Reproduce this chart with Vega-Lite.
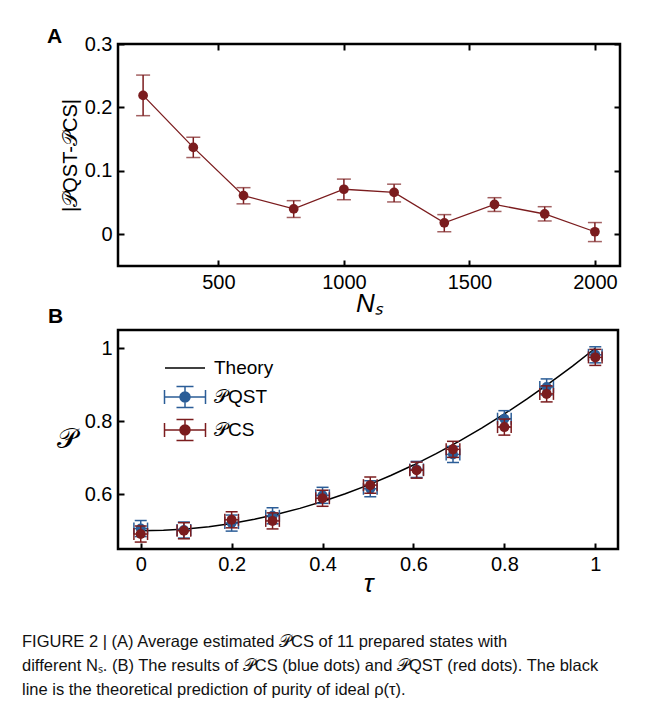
{
  "$schema": "https://vega.github.io/schema/vega-lite/v6.json",
  "background": "white",
  "padding": {"left": 22, "top": 24, "right": 8, "bottom": 5},
  "bounds": "flush",
  "spacing": 64,
  "resolve": {"scale": {"color": "independent"}, "legend": {"color": "independent"}},
  "config": {
    "view": {"stroke": "black", "strokeWidth": 2.5},
    "font": "Liberation Sans",
    "axis": {"grid": false, "domain": false, "minExtent": 0, "tickColor": "black", "tickWidth": 2, "tickSize": -6, "labelFontSize": 20, "labelColor": "black", "labelFont": "Liberation Sans", "titleColor": "black", "titleFontWeight": "normal", "titleFont": "Liberation Sans"},
    "title": {"color": "black"}
  },
  "title": {
    "text": ["FIGURE 2 | (A) Average estimated 𝒫CS of 11 prepared states with", "different Nₛ. (B) The results of 𝒫CS (blue dots) and 𝒫QST (red dots). The black", "line is the theoretical prediction of purity of ideal ρ(τ)."],
    "orient": "bottom", "anchor": "start", "frame": "group", "dx": -96, "offset": 37,
    "font": "Liberation Sans",
    "fontSize": 16.5, "fontWeight": "normal", "lineHeight": 24, "color": "#111111"
  },
  "vconcat": [
    {
      "width": 502, "height": 222,
      "title": {"text": "A", "anchor": "start", "frame": "group", "dx": -71, "fontSize": 21, "fontWeight": "bold", "offset": -13},
      "data": {"values": [
        {"Ns": 200, "d": 0.219, "lo": 0.187, "hi": 0.251},
        {"Ns": 400, "d": 0.137, "lo": 0.121, "hi": 0.153},
        {"Ns": 600, "d": 0.061, "lo": 0.048, "hi": 0.0735},
        {"Ns": 800, "d": 0.040, "lo": 0.0265, "hi": 0.053},
        {"Ns": 1000, "d": 0.071, "lo": 0.0545, "hi": 0.087},
        {"Ns": 1200, "d": 0.066, "lo": 0.051, "hi": 0.079},
        {"Ns": 1400, "d": 0.018, "lo": 0.004, "hi": 0.031},
        {"Ns": 1600, "d": 0.047, "lo": 0.036, "hi": 0.0577},
        {"Ns": 1800, "d": 0.032, "lo": 0.021, "hi": 0.0435},
        {"Ns": 2000, "d": 0.004, "lo": -0.0115, "hi": 0.0185}
      ]},
      "resolve": {"axis": {"x": "independent", "y": "independent"}},
      "layer": [
        {
          "mark": {"type": "line", "color": "#7b1c1e", "strokeWidth": 1.3},
          "encoding": {
            "x": {"field": "Ns", "type": "quantitative", "scale": {"domain": [100, 2100], "nice": false, "zero": false},
                  "axis": {"orient": "bottom", "values": [500, 1000, 1500, 2000], "format": "d", "labelPadding": 12, "title": "Nₛ", "titleFontSize": 26, "titleFontStyle": "italic", "titlePadding": -2}},
            "y": {"field": "d", "type": "quantitative", "scale": {"domain": [-0.05, 0.3], "nice": false, "zero": false},
                  "axis": {"orient": "left", "values": [0, 0.1, 0.2, 0.3], "format": "~g", "labelPadding": 12, "title": "|𝒫QST-𝒫CS|", "titleFontSize": 20, "titlePadding": 4}}
          }
        },
        {
          "mark": {"type": "rule", "color": "#7b1c1e", "strokeWidth": 1.5},
          "encoding": {
            "x": {"field": "Ns", "type": "quantitative", "axis": {"orient": "top", "values": [500, 1000, 1500, 2000], "labels": false, "title": null}},
            "y": {"field": "lo", "type": "quantitative", "axis": {"orient": "right", "values": [0, 0.1, 0.2, 0.3], "labels": false, "title": null}},
            "y2": {"field": "hi"}
          }
        },
        {
          "mark": {"type": "tick", "orient": "horizontal", "color": "#7b1c1e", "size": 14, "thickness": 1.5},
          "encoding": {
            "x": {"field": "Ns", "type": "quantitative", "axis": null},
            "y": {"field": "lo", "type": "quantitative", "axis": null}
          }
        },
        {
          "mark": {"type": "tick", "orient": "horizontal", "color": "#7b1c1e", "size": 14, "thickness": 1.5},
          "encoding": {
            "x": {"field": "Ns", "type": "quantitative", "axis": null},
            "y": {"field": "hi", "type": "quantitative", "axis": null}
          }
        },
        {
          "mark": {"type": "point", "filled": true, "color": "#7b1c1e", "size": 95, "opacity": 1},
          "encoding": {
            "x": {"field": "Ns", "type": "quantitative", "axis": null},
            "y": {"field": "d", "type": "quantitative", "axis": null}
          }
        }
      ]
    },
    {
      "width": 500, "height": 219,
      "title": {"text": "B", "anchor": "start", "frame": "group", "dx": -70, "fontSize": 21, "fontWeight": "bold", "offset": 3},
      "resolve": {"axis": {"x": "independent", "y": "independent"}},
      "layer": [
        {
          "data": {"values": [
            {"tau": 0, "P": 0.5, "series": "Theory"},
            {"tau": 0.05, "P": 0.50125, "series": "Theory"},
            {"tau": 0.1, "P": 0.505, "series": "Theory"},
            {"tau": 0.15, "P": 0.51125, "series": "Theory"},
            {"tau": 0.2, "P": 0.52, "series": "Theory"},
            {"tau": 0.25, "P": 0.53125, "series": "Theory"},
            {"tau": 0.3, "P": 0.545, "series": "Theory"},
            {"tau": 0.35, "P": 0.56125, "series": "Theory"},
            {"tau": 0.4, "P": 0.58, "series": "Theory"},
            {"tau": 0.45, "P": 0.60125, "series": "Theory"},
            {"tau": 0.5, "P": 0.625, "series": "Theory"},
            {"tau": 0.55, "P": 0.65125, "series": "Theory"},
            {"tau": 0.6, "P": 0.68, "series": "Theory"},
            {"tau": 0.65, "P": 0.71125, "series": "Theory"},
            {"tau": 0.7, "P": 0.745, "series": "Theory"},
            {"tau": 0.75, "P": 0.78125, "series": "Theory"},
            {"tau": 0.8, "P": 0.82, "series": "Theory"},
            {"tau": 0.85, "P": 0.86125, "series": "Theory"},
            {"tau": 0.9, "P": 0.905, "series": "Theory"},
            {"tau": 0.95, "P": 0.95125, "series": "Theory"},
            {"tau": 1.0, "P": 1.0, "series": "Theory"}
          ]},
          "mark": {"type": "line", "strokeWidth": 1.5},
          "encoding": {
            "x": {"field": "tau", "type": "quantitative", "scale": {"domain": [-0.05, 1.05], "nice": false, "zero": false},
                  "axis": {"orient": "bottom", "values": [0, 0.2, 0.4, 0.6, 0.8, 1], "format": "~g", "labelPadding": 11, "title": "τ", "titleFontSize": 26, "titleFontStyle": "italic", "titlePadding": -4}},
            "y": {"field": "P", "type": "quantitative", "scale": {"domain": [0.45, 1.05], "nice": false, "zero": false},
                  "axis": {"orient": "left", "values": [0.6, 0.8, 1], "format": "~g", "labelPadding": 12, "title": "𝒫", "titleFontSize": 28, "titleAngle": 0, "titleAlign": "right", "titleBaseline": "middle", "titlePadding": 8}},
            "color": {"field": "series", "type": "nominal",
              "scale": {"domain": ["Theory", "QST", "CS"], "range": ["#000000", "#2b5d97", "#7b1c1e"]},
              "legend": {
                "orient": "none", "direction": "vertical", "legendX": 56, "legendY": 27, "title": null, "padding": 0,
                "symbolSize": 400, "symbolStrokeWidth": 1.5, "labelOffset": 18, "rowPadding": 5,
                "labelFontSize": 19, "labelFont": "Liberation Sans", "labelColor": "black",
                "labelExpr": "datum.value == 'QST' ? '𝒫QST' : datum.value == 'CS' ? '𝒫CS' : 'Theory'",
                "encode": {"symbols": {"update": {
                  "shape": {"signal": "datum.value == 'Theory' ? 'M-2,0H2' : 'M-2.05,0H2.05M-2.05,-0.7V0.7M2.05,-0.7V0.7M0,-1.05V1.05M-0.85,-1.05H0.85M-0.85,1.05H0.85M0.5,0A0.5,0.5 0 1,1 -0.5,0A0.5,0.5 0 1,1 0.5,0Z'"},
                  "fill": {"signal": "datum.value == 'Theory' ? 'transparent' : scale('color', datum.value)"},
                  "stroke": {"signal": "scale('color', datum.value)"},
                  "strokeWidth": {"value": 1.5},
                  "opacity": {"value": 1}
                }}}
              }}
          }
        },
        {
          "data": {"values": [
            {"series": "QST", "tau": 0, "P": 0.506, "Plo": 0.484, "Phi": 0.528, "tlo": -0.015, "thi": 0.015},
            {"series": "QST", "tau": 0.095, "P": 0.502, "Plo": 0.480, "Phi": 0.524, "tlo": 0.08, "thi": 0.11},
            {"series": "QST", "tau": 0.2, "P": 0.521, "Plo": 0.499, "Phi": 0.543, "tlo": 0.185, "thi": 0.215},
            {"series": "QST", "tau": 0.29, "P": 0.541, "Plo": 0.519, "Phi": 0.563, "tlo": 0.275, "thi": 0.305},
            {"series": "QST", "tau": 0.4, "P": 0.597, "Plo": 0.575, "Phi": 0.619, "tlo": 0.385, "thi": 0.415},
            {"series": "QST", "tau": 0.505, "P": 0.615, "Plo": 0.593, "Phi": 0.637, "tlo": 0.49, "thi": 0.52},
            {"series": "QST", "tau": 0.607, "P": 0.668, "Plo": 0.646, "Phi": 0.690, "tlo": 0.592, "thi": 0.622},
            {"series": "QST", "tau": 0.687, "P": 0.709, "Plo": 0.687, "Phi": 0.731, "tlo": 0.672, "thi": 0.702},
            {"series": "QST", "tau": 0.8, "P": 0.807, "Plo": 0.785, "Phi": 0.829, "tlo": 0.785, "thi": 0.815},
            {"series": "QST", "tau": 0.893, "P": 0.894, "Plo": 0.872, "Phi": 0.916, "tlo": 0.878, "thi": 0.908},
            {"series": "QST", "tau": 1.0, "P": 0.982, "Plo": 0.960, "Phi": 1.004, "tlo": 0.985, "thi": 1.015},
            {"series": "CS", "tau": 0, "P": 0.491, "Plo": 0.469, "Phi": 0.513, "tlo": -0.015, "thi": 0.015},
            {"series": "CS", "tau": 0.095, "P": 0.500, "Plo": 0.478, "Phi": 0.522, "tlo": 0.08, "thi": 0.11},
            {"series": "CS", "tau": 0.2, "P": 0.530, "Plo": 0.508, "Phi": 0.552, "tlo": 0.185, "thi": 0.215},
            {"series": "CS", "tau": 0.29, "P": 0.527, "Plo": 0.505, "Phi": 0.549, "tlo": 0.275, "thi": 0.305},
            {"series": "CS", "tau": 0.4, "P": 0.589, "Plo": 0.567, "Phi": 0.611, "tlo": 0.385, "thi": 0.415},
            {"series": "CS", "tau": 0.505, "P": 0.625, "Plo": 0.603, "Phi": 0.647, "tlo": 0.49, "thi": 0.52},
            {"series": "CS", "tau": 0.607, "P": 0.666, "Plo": 0.644, "Phi": 0.688, "tlo": 0.592, "thi": 0.622},
            {"series": "CS", "tau": 0.687, "P": 0.723, "Plo": 0.701, "Phi": 0.745, "tlo": 0.672, "thi": 0.702},
            {"series": "CS", "tau": 0.8, "P": 0.784, "Plo": 0.762, "Phi": 0.806, "tlo": 0.785, "thi": 0.815},
            {"series": "CS", "tau": 0.893, "P": 0.875, "Plo": 0.853, "Phi": 0.897, "tlo": 0.878, "thi": 0.908},
            {"series": "CS", "tau": 1.0, "P": 0.975, "Plo": 0.953, "Phi": 0.997, "tlo": 0.985, "thi": 1.015}
          ]},
          "layer": [
            {
              "transform": [{"filter": "datum.series == 'QST'"}],
              "layer": [
                {"mark": {"type": "rule", "strokeWidth": 1.5},
                 "encoding": {"x": {"field": "tlo", "type": "quantitative", "axis": {"orient": "top", "values": [0, 0.2, 0.4, 0.6, 0.8, 1], "labels": false, "title": null}}, "x2": {"field": "thi"},
                              "y": {"field": "P", "type": "quantitative", "axis": {"orient": "right", "values": [0.6, 0.8, 1], "labels": false, "title": null}},
                              "color": {"field": "series", "type": "nominal"}}},
                {"mark": {"type": "rule", "strokeWidth": 1.5},
                 "encoding": {"x": {"field": "tau", "type": "quantitative", "axis": null}, "y": {"field": "Plo", "type": "quantitative", "axis": null}, "y2": {"field": "Phi"}, "color": {"field": "series", "type": "nominal"}}},
                {"mark": {"type": "tick", "orient": "horizontal", "size": 12, "thickness": 1.5, "opacity": 1},
                 "encoding": {"x": {"field": "tau", "type": "quantitative", "axis": null}, "y": {"field": "Plo", "type": "quantitative", "axis": null}, "color": {"field": "series", "type": "nominal"}}},
                {"mark": {"type": "tick", "orient": "horizontal", "size": 12, "thickness": 1.5, "opacity": 1},
                 "encoding": {"x": {"field": "tau", "type": "quantitative", "axis": null}, "y": {"field": "Phi", "type": "quantitative", "axis": null}, "color": {"field": "series", "type": "nominal"}}},
                {"mark": {"type": "tick", "orient": "vertical", "size": 12, "thickness": 1.5, "opacity": 1},
                 "encoding": {"x": {"field": "tlo", "type": "quantitative", "axis": null}, "y": {"field": "P", "type": "quantitative", "axis": null}, "color": {"field": "series", "type": "nominal"}}},
                {"mark": {"type": "tick", "orient": "vertical", "size": 12, "thickness": 1.5, "opacity": 1},
                 "encoding": {"x": {"field": "thi", "type": "quantitative", "axis": null}, "y": {"field": "P", "type": "quantitative", "axis": null}, "color": {"field": "series", "type": "nominal"}}},
                {"mark": {"type": "point", "filled": true, "size": 100, "opacity": 1},
                 "encoding": {"x": {"field": "tau", "type": "quantitative", "axis": null}, "y": {"field": "P", "type": "quantitative", "axis": null}, "color": {"field": "series", "type": "nominal"}}}
              ]
            },
            {
              "transform": [{"filter": "datum.series == 'CS'"}],
              "layer": [
                {"mark": {"type": "rule", "strokeWidth": 1.5},
                 "encoding": {"x": {"field": "tlo", "type": "quantitative", "axis": null}, "x2": {"field": "thi"}, "y": {"field": "P", "type": "quantitative", "axis": null}, "color": {"field": "series", "type": "nominal"}}},
                {"mark": {"type": "rule", "strokeWidth": 1.5},
                 "encoding": {"x": {"field": "tau", "type": "quantitative", "axis": null}, "y": {"field": "Plo", "type": "quantitative", "axis": null}, "y2": {"field": "Phi"}, "color": {"field": "series", "type": "nominal"}}},
                {"mark": {"type": "tick", "orient": "horizontal", "size": 12, "thickness": 1.5, "opacity": 1},
                 "encoding": {"x": {"field": "tau", "type": "quantitative", "axis": null}, "y": {"field": "Plo", "type": "quantitative", "axis": null}, "color": {"field": "series", "type": "nominal"}}},
                {"mark": {"type": "tick", "orient": "horizontal", "size": 12, "thickness": 1.5, "opacity": 1},
                 "encoding": {"x": {"field": "tau", "type": "quantitative", "axis": null}, "y": {"field": "Phi", "type": "quantitative", "axis": null}, "color": {"field": "series", "type": "nominal"}}},
                {"mark": {"type": "tick", "orient": "vertical", "size": 12, "thickness": 1.5, "opacity": 1},
                 "encoding": {"x": {"field": "tlo", "type": "quantitative", "axis": null}, "y": {"field": "P", "type": "quantitative", "axis": null}, "color": {"field": "series", "type": "nominal"}}},
                {"mark": {"type": "tick", "orient": "vertical", "size": 12, "thickness": 1.5, "opacity": 1},
                 "encoding": {"x": {"field": "thi", "type": "quantitative", "axis": null}, "y": {"field": "P", "type": "quantitative", "axis": null}, "color": {"field": "series", "type": "nominal"}}},
                {"mark": {"type": "point", "filled": true, "size": 100, "opacity": 1},
                 "encoding": {"x": {"field": "tau", "type": "quantitative", "axis": null}, "y": {"field": "P", "type": "quantitative", "axis": null}, "color": {"field": "series", "type": "nominal"}}}
              ]
            }
          ]
        }
      ]
    }
  ]
}
